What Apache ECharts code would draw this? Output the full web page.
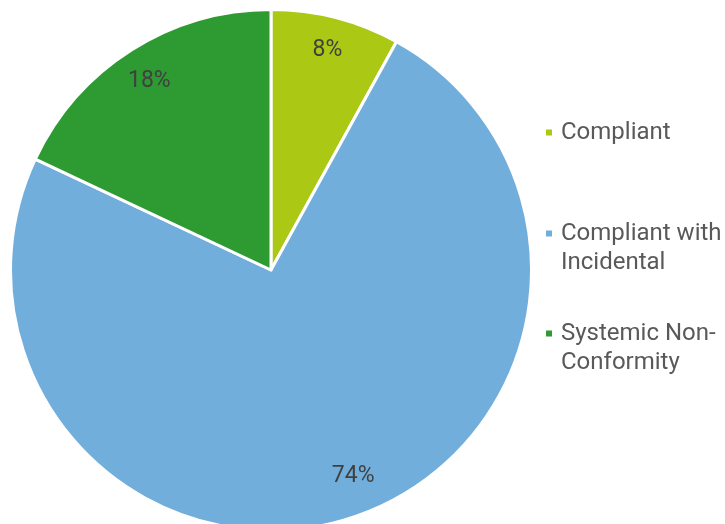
<!DOCTYPE html>
<html><head><meta charset="utf-8">
<script src="https://cdn.jsdelivr.net/npm/echarts@6/dist/echarts.min.js"></script>
<style>html,body{margin:0;padding:0;background:#fff}#c{width:725px;height:524px}</style>
</head><body><div id="c"></div>
<script>
const categories = ['Compliant', 'Compliant with Incidental', 'Systemic Non-Conformity'];
const legendLabels = ['Compliant', ' \nCompliant with\nIncidental', ' \nSystemic Non-\nConformity'];
const values = [8, 74, 18];
const colors = ['#aac814', '#72aedb', '#2d9a32'];

const data = categories.map((n, i) => ({ name: n, value: values[i], itemStyle: { color: colors[i] } }));
const font = 'Roboto, sans-serif';
const chart = echarts.init(document.getElementById('c'), null, { renderer: 'canvas' });

function leg(i, top) {
  return {
    orient: 'vertical', left: 544, top: top, padding: 0,
    icon: 'rect', itemWidth: 8, itemHeight: 8,
    data: [categories[i]],
    formatter: () => legendLabels[i],
    textStyle: { fontFamily: font, fontSize: 24, lineHeight: 29, color: '#595959',
      padding: [3, 0, 0, 3] }
  };
}

chart.setOption({
  animation: false,
  backgroundColor: '#ffffff',
  legend: [leg(0, 116.5), leg(1, 188.5), leg(2, 288.5)],
  series: [
    {
      type: 'pie', center: [271, 270], radius: [0, 260.5], startAngle: 90, clockwise: true,
      data: data,
      itemStyle: { borderColor: '#ffffff', borderWidth: 3 },
      label: { show: false }, labelLine: { show: false }, emphasis: { disabled: true }, silent: true
    },
    {
      type: 'pie', center: [271, 270], radius: [190, 258], startAngle: 90, clockwise: true,
      data: categories.map((n, i) => ({ name: n, value: values[i] })),
      itemStyle: { color: 'rgba(0,0,0,0)' },
      label: { show: true, position: 'inside', formatter: p => p.value + '%',
        fontFamily: font, fontSize: 23, color: '#404040' },
      labelLayout: p => p.dataIndex === 1 ? { dx: 12, dy: -10 } : (p.dataIndex === 2 ? { dy: 3 } : {}),
      labelLine: { show: false }, emphasis: { disabled: true }, silent: true,
      legendHoverLink: false
    }
  ]
});
</script></body></html>
